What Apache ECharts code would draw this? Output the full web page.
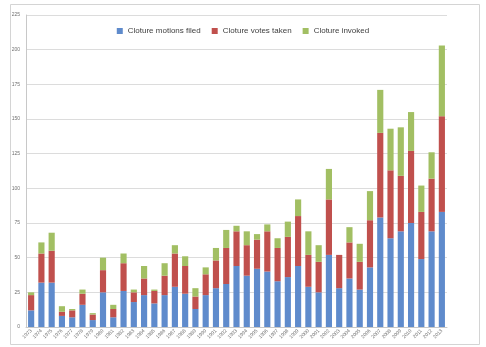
<!DOCTYPE html>
<html>
<head>
<meta charset="utf-8">
<style>
  html, body { margin: 0; padding: 0; background: #ffffff; }
  #chart { width: 486px; height: 347px; }
</style>
<script src="https://cdn.jsdelivr.net/npm/echarts@6/dist/echarts.min.js"></script>
</head>
<body>
<div id="chart"></div>
<script>
// Senate cloture activity per year
const years = [];
for (let y = 1973; y <= 2013; y++) years.push(String(y));

const motionsFiled = [12, 32, 32, 8, 7, 16, 5, 25, 7, 26, 18, 23, 17, 23, 29, 24, 13, 23, 28, 31, 44,
  37, 42, 40, 33, 36, 44, 29, 25, 52, 28, 35, 27, 43, 79, 64, 69, 75, 49, 69, 83];
const votesTaken = [11, 21, 23, 3, 5, 8, 4, 16, 6, 20, 7, 12, 9, 14, 24, 20, 9, 15, 20, 26, 25,
  22, 21, 29, 24, 29, 36, 23, 22, 40, 24, 26, 20, 34, 61, 49, 40, 52, 34, 38, 69];
const clotureInvoked = [2, 8, 13, 4, 1, 3, 1, 9, 3, 7, 2, 9, 1, 9, 6, 7, 6, 5, 9, 13, 4,
  10, 4, 5, 7, 11, 12, 17, 12, 22, 0, 11, 13, 21, 31, 30, 35, 28, 19, 19, 51];

const yTicks = { min: 0, max: 225, interval: 25 };

const chart = echarts.init(document.getElementById('chart'), null, { renderer: 'canvas' });

const barStyle = (color) => ({
  type: 'bar',
  stack: 'total',
  barCategoryGap: '40%',
  itemStyle: { color: color },
  emphasis: { disabled: true }
});

chart.setOption({
  animation: false,
  backgroundColor: '#ffffff',
  textStyle: { fontFamily: 'Liberation Sans, Arial, sans-serif' },
  graphic: [{
    type: 'rect',
    shape: { x: 10.5, y: 4.5, width: 469, height: 340 },
    style: { fill: 'none', stroke: '#d4d4d4', lineWidth: 1 },
    silent: true
  }],
  legend: {
    top: 22,
    left: 'center',
    itemWidth: 6,
    itemHeight: 6,
    itemGap: 11,
    icon: 'rect',
    textStyle: { fontSize: 8, color: '#404040' },
    data: ['Cloture motions filed', 'Cloture votes taken', 'Cloture invoked']
  },
  grid: { left: 26, right: 39, top: 15, bottom: 20, containLabel: false },
  xAxis: {
    type: 'category',
    data: years,
    axisLine: { lineStyle: { color: '#c8c8c8' } },
    axisTick: { show: false },
    axisLabel: { rotate: 45, fontSize: 5, color: '#707070', margin: 3, interval: 0 }
  },
  yAxis: {
    type: 'value',
    min: yTicks.min,
    max: yTicks.max,
    interval: yTicks.interval,
    axisLine: { show: true, lineStyle: { color: '#c8c8c8' } },
    axisTick: { show: false },
    axisLabel: { fontSize: 5, color: '#707070', margin: 6 },
    splitLine: { lineStyle: { color: '#dcdcdc' } }
  },
  series: [
    Object.assign(barStyle('#5f8bcc'), { name: 'Cloture motions filed', data: motionsFiled }),
    Object.assign(barStyle('#c0504d'), { name: 'Cloture votes taken', data: votesTaken }),
    Object.assign(barStyle('#a2bf63'), { name: 'Cloture invoked', data: clotureInvoked })
  ]
});
</script>
</body>
</html>
